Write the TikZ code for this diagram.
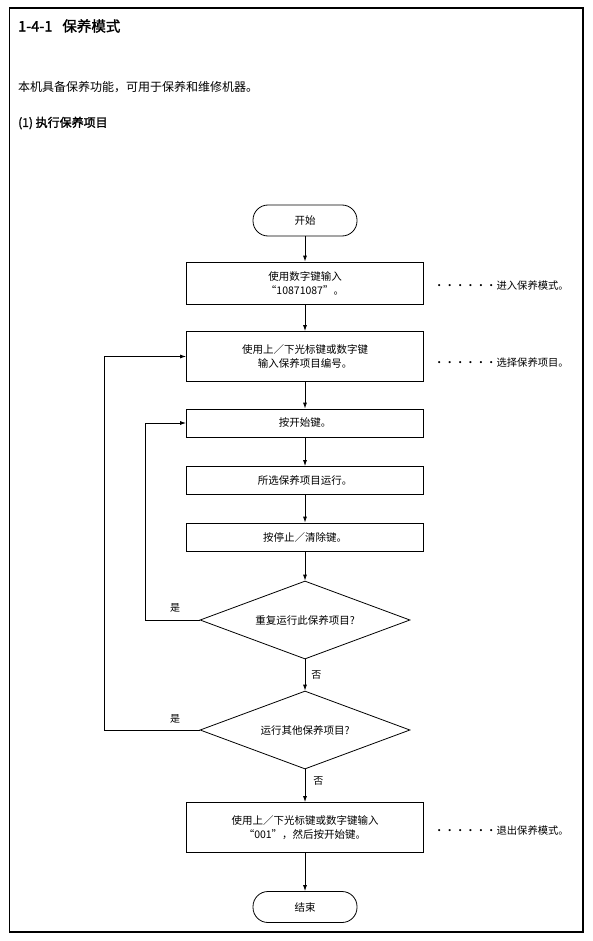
\documentclass[tikz,border=0pt]{standalone}
\usepackage{fontspec}
\setmainfont{Noto Sans CJK SC}
\newfontfamily\headfont[FakeBold=1.5]{Noto Sans CJK SC}
\usetikzlibrary{shapes.geometric,arrows.meta}
\newcommand{\leaderdots}{\makebox[10.4pt][l]{·}\makebox[10.4pt][l]{·}\makebox[10.4pt][l]{·}\makebox[10.4pt][l]{·}\makebox[10.4pt][l]{·}\makebox[10.4pt][l]{·}}
\begin{document}
\begin{tikzpicture}[x=1pt,y=-1pt,
  txt/.style={font=\fontsize{10.5}{14}\selectfont},
  box/.style={draw, line width=0.8pt, minimum width=237pt, inner sep=0pt, align=center, txt},
  term/.style={draw, line width=0.8pt, rounded corners=15pt, minimum width=104pt, minimum height=31pt, inner sep=0pt, txt},
  dia/.style={draw, diamond, aspect=2.69, minimum width=210pt, minimum height=78pt, inner sep=0pt, line width=0.8pt, txt},
  arr/.style={-{Latex[length=6pt,width=4pt]}, line width=0.8pt},
  note/.style={anchor=west, inner sep=0pt, font=\fontsize{10.3}{12}\selectfont},
  lbl/.style={inner sep=0pt, font=\fontsize{10}{12}\selectfont}
]
\useasboundingbox (0,0) rectangle (592,941);
\draw[line width=1.1pt] (9.5,8) rectangle (583,932);

\node[anchor=west, inner sep=0pt, font=\headfont\fontsize{14.5}{16}\selectfont] (title) at (18,26) {1-4-1\hspace{10pt}保养模式};
\node[anchor=west, inner sep=0pt, font=\fontsize{12}{14}\selectfont] (intro) at (18,87) {本机具备保养功能，可用于保养和维修机器。};
\node[anchor=west, inner sep=0pt, font=\headfont\fontsize{12}{14}\selectfont] (sub) at (18,123) {(1) 执行保养项目};

\node[term] (start) at (305,220.5) {开始};
\node[box, minimum height=42pt] (b1) at (305,283) {使用数字键输入\\“10871087”。};
\node[box, minimum height=50pt] (b2) at (305,356.5) {使用上／下光标键或数字键\\输入保养项目编号。};
\node[box, minimum height=28pt] (b3) at (305,423) {按开始键。};
\node[box, minimum height=28pt] (b4) at (305,480.5) {所选保养项目运行。};
\node[box, minimum height=28pt] (b5) at (305,537) {按停止／清除键。};
\node[dia] (d1) at (305,620) {重复运行此保养项目?};
\node[dia] (d2) at (305,730) {运行其他保养项目?};
\node[box, minimum height=50pt] (b6) at (305,827.5) {使用上／下光标键或数字键输入\\“001”，然后按开始键。};
\node[term] (end) at (305,907) {结束};

\draw[arr] (start) -- (b1);
\draw[arr] (b1) -- (b2);
\draw[arr] (b2) -- (b3);
\draw[arr] (b3) -- (b4);
\draw[arr] (b4) -- (b5);
\draw[arr] (b5) -- (d1);
\draw[arr] (d1) -- node[lbl, right=6pt, pos=0.5] (no1) {否} (d2);
\draw[arr] (d2) -- node[lbl, right=8pt, pos=0.35] (no2) {否} (b6);
\draw[arr] (b6) -- (end);

\draw[arr] (d1.west) -- ++(-54.3,0) |- (b3.west);
\draw[arr] (d2.west) -- ++(-95.3,0) |- (b2.west);
\node[lbl] (yes1) at (175,608) {是};
\node[lbl] (yes2) at (175,719) {是};

\node[note] (n1) at (434,286) {\leaderdots 进入保养模式。};
\node[note] (n2) at (434,363) {\leaderdots 选择保养项目。};
\node[note] (n3) at (434,831) {\leaderdots 退出保养模式。};
\end{tikzpicture}
\end{document}
